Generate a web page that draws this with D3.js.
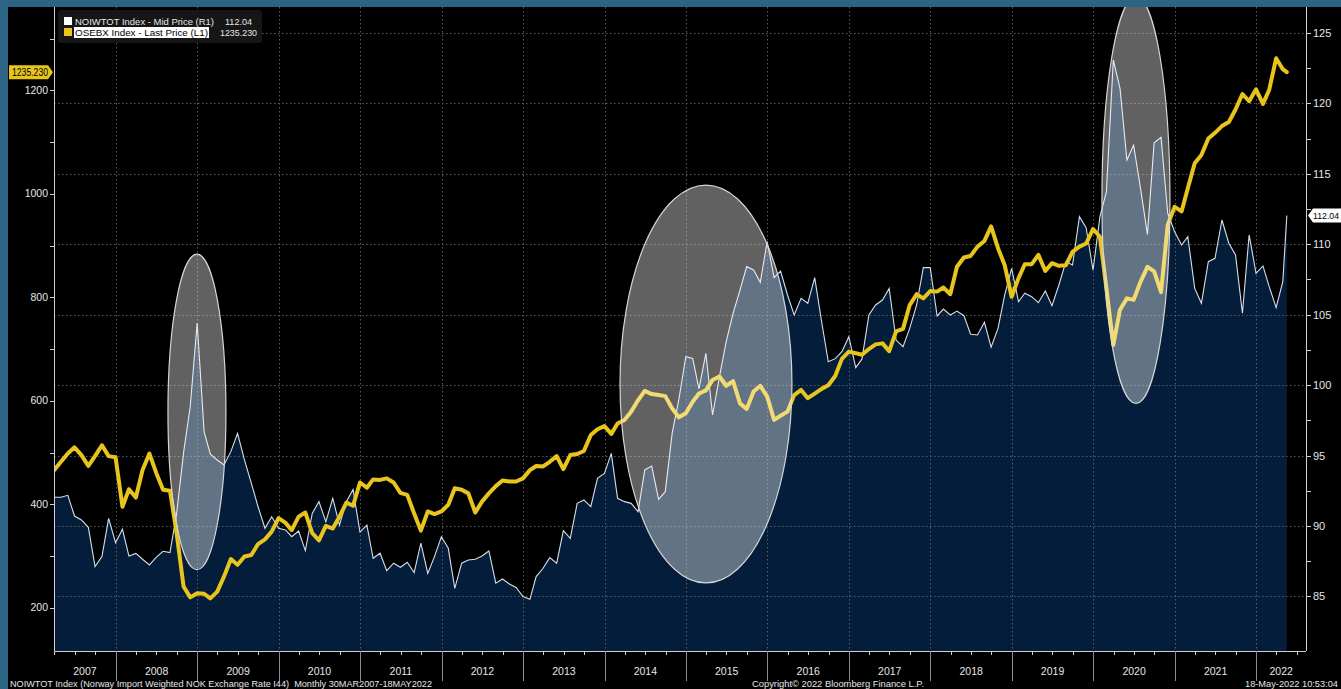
<!DOCTYPE html>
<html><head><meta charset="utf-8">
<script src="https://cdn.jsdelivr.net/npm/d3@7"></script>
<style>
html,body{margin:0;padding:0;background:#000;}
svg{display:block;}
text{font-family:"Liberation Sans Narrow","Arial Narrow","Liberation Sans",Arial,sans-serif;}
</style></head>
<body>
<svg id="c" width="1341" height="689"></svg>
<script>
// ---- data ----
const noiwtot = [
92.04,92.04,92.18,90.71,90.43,89.91,87.12,87.83,90.55,88.82,
89.77,87.87,88.06,87.64,87.24,87.78,88.21,88.11,90.9,95.2,
98.5,104.4,96.7,95.1,94.69,94.33,95.28,96.58,94.69,93.03,
91.37,89.84,90.66,89.84,89.72,89.24,89.65,88.25,90.9,91.73,
90.31,91.97,90.07,91.73,92.6,89.57,90.07,87.71,88.07,86.83,
87.36,87.07,87.43,86.69,88.78,86.64,87.83,89.24,88.42,85.58,
87.36,87.59,87.64,87.87,88.23,85.94,86.24,85.89,85.64,85.0,
84.8,86.41,87.0,87.76,87.36,89.67,89.13,91.61,91.85,91.37,
93.39,93.74,95.16,91.97,91.73,91.61,91.02,93.98,94.26,91.9,
92.44,96.6,99.0,102.02,101.9,99.73,102.26,97.88,100.6,103.08,
105.1,106.75,108.41,108.17,107.3,110.18,107.63,108.1,106.4,104.98,
106.16,105.81,107.63,104.5,101.66,101.88,102.37,103.44,101.24,101.86,
104.98,105.69,106.04,106.87,103.2,102.73,104.03,105.69,108.34,108.34,
104.91,105.4,104.98,105.26,104.93,103.61,103.56,104.46,102.7,104.03,
106.4,108.29,105.92,106.52,106.28,105.85,106.68,105.64,107.11,108.76,
108.53,111.96,111.18,108.17,111.96,113.73,123.08,121.07,115.98,117.04,
113.97,110.7,117.2,117.59,112.2,110.89,109.95,110.54,106.87,105.81,
108.76,109.0,111.72,110.07,109.24,105.1,110.66,107.94,108.46,106.99,
105.5,107.34,112.04];
const osebx = [
466,482,498,510,495,474,493,514,493,491,
395,429,413,466,498,461,428,426,344,241,
220,228,227,218,231,260,294,283,299,302,
323,332,347,373,364,350,376,384,344,330,
358,353,376,403,397,442,432,448,447,450,
442,422,418,382,349,386,381,386,399,431,
428,421,384,405,421,435,446,444,444,450,
466,474,473,482,493,468,495,497,503,534,
545,551,536,556,563,579,601,619,613,611,
609,585,568,576,598,614,620,640,647,629,
638,595,584,618,629,608,563,571,579,611,
621,605,614,623,630,648,681,695,692,689,
700,709,711,696,734,739,785,806,798,812,
811,819,806,859,877,880,898,909,937,895,
862,801,837,864,864,882,851,866,861,862,
888,898,904,932,917,817,708,776,798,795,
830,859,850,810,940,975,966,1011,1059,1075,
1107,1118,1131,1139,1163,1193,1179,1202,1174,1201,
1262,1241,1235.23];
// month-end dates 30MAR2007 .. APR2022, then 18MAY2022
const dates = d3.timeMonth.range(new Date(2007,3,1), new Date(2022,4,2)).map(d => d3.timeDay.offset(d,-1));
dates.push(new Date(2022,4,18));
const years = d3.range(2007, 2023);
const leftTicks = d3.range(200, 1301, 100);
const leftLabels = [200,400,600,800,1000,1200];
const rightTicks = d3.range(85, 125.01, 2.5);
const rightLabels = [85,90,95,100,105,110,115,120,125];
// highlight ellipses: [start date, end date, top (R1), bottom (R1)]
const ellipses = [
  ["2008-08-22","2009-05-09",109.3,86.9],
  ["2014-03-11","2016-04-20",114.2,85.96],
  ["2020-02-09","2020-12-10",127.55,98.7]
];
const legendItems = [
  {name:"NOIWTOT Index - Mid Price (R1)", value:"112.04", color:"#ffffff", hi:false},
  {name:"OSEBX Index - Last Price (L1)", value:"1235.230", color:"#e8c51c", hi:true}
];

// ---- layout ----
const svg = d3.select("#c");
const W = 1341, H = 689;
const L = 54, R = 1306, T = 7, B = 651;
const YELLOW = "#e8c51c", NAVY = "#031d3a";

svg.append("rect").attr("width",W).attr("height",H).attr("fill","#2c6583");
svg.append("rect").attr("x",8).attr("y",7).attr("width",W-8).attr("height",H-7).attr("fill","#000");

const x = d3.scaleTime().domain([new Date(2007,2,30), new Date(2022,7,12)]).range([L,R]);
const yL = d3.scaleLinear().domain([116.3, 1361.2]).range([B,T]);
const yR = d3.scaleLinear().domain([81.13, 126.84]).range([B,T]);

svg.append("clipPath").attr("id","clip").append("rect").attr("x",L).attr("y",T).attr("width",R-L).attr("height",B-T);
const plot = svg.append("g").attr("clip-path","url(#clip)");

const noiData = dates.map((d,i)=>({d, v:noiwtot[i]}));
const oseData = dates.map((d,i)=>({d, v:osebx[i]}));

// area
plot.append("path").datum(noiData)
  .attr("d", d3.area().x(p=>x(p.d)).y0(B).y1(p=>yR(p.v)))
  .attr("fill", NAVY);

// grid
const grid = plot.append("g").attr("stroke","#5a5a5a").attr("stroke-width",1).attr("stroke-dasharray","1.5,2.5");
grid.selectAll("line.h").data(rightLabels).join("line")
  .attr("x1",L).attr("x2",R).attr("y1",d=>Math.round(yR(d))+0.5).attr("y2",d=>Math.round(yR(d))+0.5);
grid.selectAll("line.v").data(years.slice(1)).join("line")
  .attr("y1",T).attr("y2",B).attr("x1",d=>Math.round(x(new Date(d,0,1)))+0.5).attr("x2",d=>Math.round(x(new Date(d,0,1)))+0.5);

// white line
plot.append("path").datum(noiData)
  .attr("d", d3.line().x(p=>x(p.d)).y(p=>yR(p.v)))
  .attr("fill","none").attr("stroke","#d8dee6").attr("stroke-width",1.1);

// yellow line
plot.append("path").datum(oseData)
  .attr("d", d3.line().x(p=>x(p.d)).y(p=>yL(p.v)))
  .attr("fill","none").attr("stroke",YELLOW).attr("stroke-width",4).attr("stroke-linejoin","round").attr("stroke-linecap","round");

// ellipses
const pd = d3.timeParse("%Y-%m-%d");
plot.selectAll("ellipse").data(ellipses).join("ellipse")
  .attr("cx", e => (x(pd(e[0]))+x(pd(e[1])))/2)
  .attr("cy", e => (yR(e[2])+yR(e[3]))/2)
  .attr("rx", e => (x(pd(e[1]))-x(pd(e[0])))/2)
  .attr("ry", e => (yR(e[3])-yR(e[2]))/2)
  .attr("fill","rgba(255,255,255,0.38)").attr("stroke","#d6d6d6").attr("stroke-width",1.2);

// axes
const axCol = "#d0d0d0", txtCol = "#e6e6e6";
const ax = svg.append("g");
ax.append("line").attr("x1",L+0.5).attr("x2",L+0.5).attr("y1",T).attr("y2",B).attr("stroke",axCol);
ax.append("line").attr("x1",R+0.5).attr("x2",R+0.5).attr("y1",T).attr("y2",B).attr("stroke",axCol);
ax.append("line").attr("x1",L).attr("x2",R).attr("y1",B+0.5).attr("y2",B+0.5).attr("stroke",axCol);

ax.selectAll("line.lt").data(leftTicks).join("line")
  .attr("x1",L-4).attr("x2",L).attr("y1",d=>Math.round(yL(d))+0.5).attr("y2",d=>Math.round(yL(d))+0.5).attr("stroke",axCol);
ax.selectAll("text.ll").data(leftLabels).join("text")
  .attr("x",L-6).attr("y",d=>yL(d)+3.5).attr("text-anchor","end").attr("fill",txtCol).attr("font-size",10.5).text(d=>d);

ax.selectAll("line.rt").data(rightTicks).join("line")
  .attr("x1",R).attr("x2",R+5).attr("y1",d=>Math.round(yR(d))+0.5).attr("y2",d=>Math.round(yR(d))+0.5).attr("stroke",axCol);
ax.selectAll("text.rl").data(rightLabels).join("text")
  .attr("x",R+7).attr("y",d=>yR(d)+4).attr("fill",txtCol).attr("font-size",11).text(d=>d);

// bottom: quarter ticks, year separators, labels
const quarters = d3.timeMonth.every(3).range(new Date(2007,3,1), new Date(2022,7,1));
ax.selectAll("line.q").data(quarters).join("line")
  .attr("x1",d=>Math.round(x(d))+0.5).attr("x2",d=>Math.round(x(d))+0.5).attr("y1",B).attr("y2",B+4).attr("stroke",axCol);
ax.selectAll("line.ys").data(years.slice(1)).join("line")
  .attr("x1",d=>Math.round(x(new Date(d,0,1)))+0.5).attr("x2",d=>Math.round(x(new Date(d,0,1)))+0.5)
  .attr("y1",B).attr("y2",681).attr("stroke","#8a8a8a");
ax.selectAll("text.yl").data(years).join("text")
  .attr("x",d=>{const a=Math.max(L,x(new Date(d,0,1))), b=Math.min(R,x(new Date(d+1,0,1))); return (a+b)/2;})
  .attr("y",675).attr("text-anchor","middle").attr("fill",txtCol).attr("font-size",10.5).text(d=>d);

// footer
const foot = svg.append("g").attr("fill",txtCol).attr("font-size",9.5);
foot.append("text").attr("x",10).attr("y",687).attr("textLength",422).attr("lengthAdjust","spacingAndGlyphs")
  .text("NOIWTOT Index (Norway Import Weighted NOK Exchange Rate I44)  Monthly 30MAR2007-18MAY2022").attr("xml:space","preserve");
foot.append("text").attr("x",752).attr("y",687).attr("textLength",172).attr("lengthAdjust","spacingAndGlyphs").text("Copyright© 2022 Bloomberg Finance L.P.");
foot.append("text").attr("x",1245).attr("y",687).attr("textLength",93).attr("lengthAdjust","spacingAndGlyphs").text("18-May-2022 10:53:04");

// last value tags
const yLast = yL(osebx[osebx.length-1]);
svg.append("path").attr("d",`M9,${yLast-7}H48L53,${yLast}L48,${yLast+7}H9Z`).attr("fill",YELLOW);
svg.append("text").attr("x",12).attr("y",yLast+3.7).attr("font-size",10).attr("fill","#000")
  .attr("textLength",36).attr("lengthAdjust","spacingAndGlyphs")
  .text(d3.format(".3f")(osebx[osebx.length-1]));
const yLastR = yR(noiwtot[noiwtot.length-1]);
svg.append("path").attr("d",`M1308,${yLastR}L1313,${yLastR-7}H1341V${yLastR+7}H1313Z`).attr("fill","#fff");
svg.append("text").attr("x",1313).attr("y",yLastR+3.7).attr("font-size",9.5).attr("fill","#000")
  .attr("textLength",26).attr("lengthAdjust","spacingAndGlyphs")
  .text(d3.format(".2f")(noiwtot[noiwtot.length-1]));

// legend
const lg = svg.append("g");
lg.append("rect").attr("x",58).attr("y",10).attr("width",204).attr("height",33).attr("rx",3).attr("fill","#161616");
const nameLen = [139, 133], valX = [225, 220], valLen = [27, 37];
legendItems.forEach((it,i)=>{
  const yy = 17 + i*11;
  lg.append("rect").attr("x",64).attr("y",yy).attr("width",8).attr("height",8).attr("fill",it.color);
  if(it.hi) lg.append("rect").attr("x",74).attr("y",yy-1).attr("width",135).attr("height",11).attr("fill","#fff");
  lg.append("text").attr("x",75).attr("y",yy+8).attr("font-size",9.5).attr("fill",it.hi?"#000":txtCol)
    .attr("textLength",nameLen[i]).attr("lengthAdjust","spacingAndGlyphs").text(it.name);
  lg.append("text").attr("x",valX[i]).attr("y",yy+8).attr("font-size",9.5).attr("fill",txtCol)
    .attr("textLength",valLen[i]).attr("lengthAdjust","spacingAndGlyphs").text(it.value);
});
</script>
</body></html>
